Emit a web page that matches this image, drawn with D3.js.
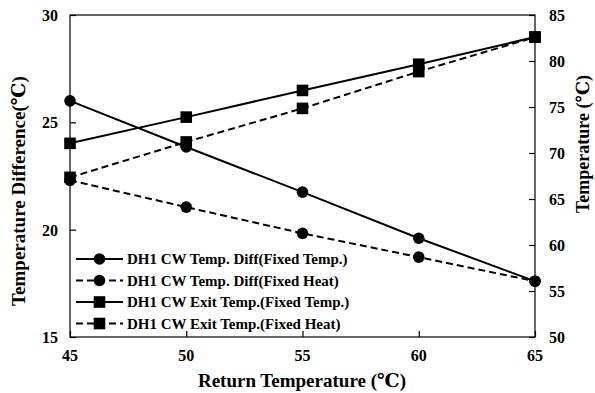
<!DOCTYPE html>
<html><head><meta charset="utf-8">
<script src="https://cdn.jsdelivr.net/npm/d3@7"></script>
<style>body{margin:0;background:#fff}svg{display:block}</style>
</head><body><svg id="c" width="595" height="393"></svg>
<script>
const returnTemps = [45, 50, 55, 60, 65];
const diffFixedTemp = [26.0, 23.85, 21.75, 19.6, 17.6];
const diffFixedHeat = [22.3, 21.05, 19.83, 18.72, 17.6];
const exitFixedTemp = [71.05, 73.9, 76.8, 79.65, 82.6];
const exitFixedHeat = [67.35, 71.2, 74.85, 78.85, 82.6];
const xTicks = [45, 50, 55, 60, 65];
const leftTicks = [15, 20, 25, 30];
const rightTicks = [50, 55, 60, 65, 70, 75, 80, 85];
const seriesNames = ["DH1 CW Temp. Diff(Fixed Temp.)", "DH1 CW Temp. Diff(Fixed Heat)", "DH1 CW Exit Temp.(Fixed Temp.)", "DH1 CW Exit Temp.(Fixed Heat)"];

const FONT = "'Liberation Serif', 'DejaVu Serif', 'Times New Roman', serif";
const L = 70, R = 535, T = 15, B = 337;
const svg = d3.select("#c");
const x = d3.scaleLinear().domain([45, 65]).range([L, R]);
const yL = d3.scaleLinear().domain([15, 30]).range([B, T]);
const yR = d3.scaleLinear().domain([50, 85]).range([B, T]);

function txt(sel) { return sel.attr("font-family", FONT).attr("font-weight", "bold").attr("fill", "#000"); }

// frame
svg.append("rect").attr("x", L).attr("y", T).attr("width", R - L).attr("height", B - T)
  .attr("fill", "none").attr("stroke", "#000").attr("stroke-width", 1.2);

// axes (ticks inward)
const ax = svg.append("g").attr("transform", `translate(0,${B})`)
  .call(d3.axisTop(x).tickValues(xTicks).tickSize(6).tickFormat(""));
const al = svg.append("g").attr("transform", `translate(${L},0)`)
  .call(d3.axisRight(yL).tickValues(leftTicks).tickSize(6).tickFormat(""));
const ar = svg.append("g").attr("transform", `translate(${R},0)`)
  .call(d3.axisLeft(yR).tickValues(rightTicks).tickSize(6).tickFormat(""));
[ax, al, ar].forEach(g => { g.select(".domain").remove(); g.selectAll("line").attr("stroke", "#000").attr("stroke-width", 1.2); });

// tick labels
txt(svg.selectAll(".xt").data(xTicks).enter().append("text")
  .attr("x", d => x(d)).attr("y", 361).attr("text-anchor", "middle").attr("font-size", 16).text(d => d));
txt(svg.selectAll(".lt").data(leftTicks).enter().append("text")
  .attr("x", 58).attr("y", d => yL(d) + 6).attr("text-anchor", "end").attr("font-size", 16).text(d => d));
txt(svg.selectAll(".rt").data(rightTicks).enter().append("text")
  .attr("x", 549).attr("y", d => yR(d) + 6).attr("text-anchor", "start").attr("font-size", 16).text(d => d));

// titles
txt(svg.append("text").attr("x", 302).attr("y", 387).attr("text-anchor", "middle").attr("font-size", 19)
  .text("Return Temperature (℃)"));
txt(svg.append("text").attr("transform", "translate(25,191) rotate(-90)").attr("text-anchor", "middle").attr("font-size", 19)
  .text("Temperature Difference(℃)"));
txt(svg.append("text").attr("transform", "translate(589,144) rotate(-90)").attr("text-anchor", "middle").attr("font-size", 18)
  .text("Temperature (℃)"));

const series = [
  {vals: diffFixedTemp, y: yL, dash: null, shape: "circle"},
  {vals: diffFixedHeat, y: yL, dash: "7,4", shape: "circle"},
  {vals: exitFixedTemp, y: yR, dash: null, shape: "square"},
  {vals: exitFixedHeat, y: yR, dash: "7,4", shape: "square"}
];

function marker(g, shape, cx, cy) {
  if (shape === "circle") g.append("circle").attr("cx", cx).attr("cy", cy).attr("r", 5.8).attr("fill", "#000");
  else g.append("rect").attr("x", cx - 5.8).attr("y", cy - 5.8).attr("width", 11.6).attr("height", 11.6).attr("fill", "#000");
}

series.forEach(s => {
  const line = d3.line().x((d, i) => x(returnTemps[i])).y(d => s.y(d));
  svg.append("path").datum(s.vals).attr("d", line).attr("fill", "none").attr("stroke", "#000")
    .attr("stroke-width", 2).attr("stroke-dasharray", s.dash);
  const g = svg.append("g");
  s.vals.forEach((v, i) => marker(g, s.shape, x(returnTemps[i]), s.y(v)));
});

// legend
const legY = [259, 280.5, 302, 323.5];
series.forEach((s, i) => {
  const g = svg.append("g");
  g.append("line").attr("x1", 76).attr("x2", 123).attr("y1", legY[i]).attr("y2", legY[i])
    .attr("stroke", "#000").attr("stroke-width", 2).attr("stroke-dasharray", s.dash);
  marker(g, s.shape, 99.5, legY[i]);
  txt(g.append("text").attr("x", 127).attr("y", legY[i] + 5).attr("font-size", 15).text(seriesNames[i]));
});
</script></body></html>
